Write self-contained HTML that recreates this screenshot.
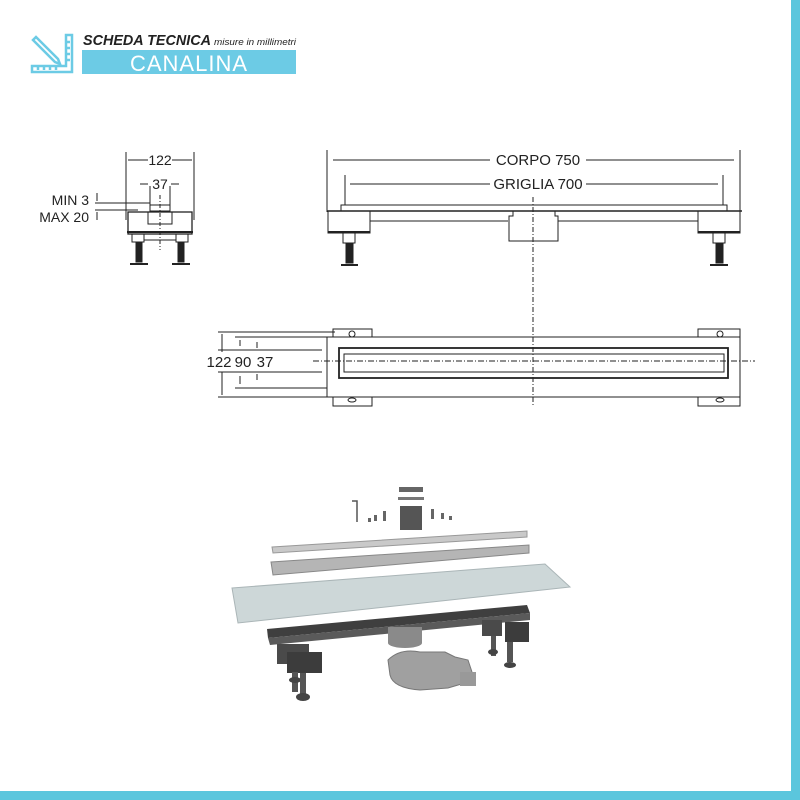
<!DOCTYPE html>
<html><head><meta charset="utf-8"><style>
html,body{margin:0;padding:0;background:#fff;}
svg{display:block;}
text{font-family:"Liberation Sans",sans-serif;}
</style></head><body>
<svg width="800" height="800" viewBox="0 0 800 800" xmlns="http://www.w3.org/2000/svg">
<rect width="800" height="800" fill="#fff"/>
<rect x="791" y="0" width="9" height="800" fill="#5bc6dd"/>
<rect x="0" y="791" width="800" height="9" fill="#5bc6dd"/>

<!-- header icon -->
<g stroke="#6ccbe5" stroke-width="2.5" fill="none">
<path d="M32 72 H72 V35 H66 V66 H32 Z"/>
<path d="M33 40 L55 62 L60 64 L58 59 L36 37 Z"/>
<path d="M66 42 H70 M66 48 H70 M66 54 H70 M66 60 H70"/>
<path d="M38 66 V70 M44 66 V70 M50 66 V70 M56 66 V70"/>
</g>
<text x="83" y="45" font-size="15" font-weight="bold" font-style="italic" fill="#222" textLength="128" lengthAdjust="spacingAndGlyphs">SCHEDA TECNICA</text>
<text x="214" y="45" font-size="9" font-style="italic" fill="#222" textLength="82" lengthAdjust="spacingAndGlyphs">misure in millimetri</text>
<rect x="82" y="50" width="214" height="24" fill="#6ccbe5"/>
<text x="189" y="71" font-size="22" fill="#fff" text-anchor="middle" letter-spacing="1">CANALINA</text>

<g stroke="#222" fill="none" stroke-width="1">
<!-- side view -->
<line x1="126" y1="152" x2="126" y2="220"/><line x1="194" y1="152" x2="194" y2="220"/>
<line x1="128" y1="160" x2="148" y2="160"/><line x1="172" y1="160" x2="192" y2="160"/>
<line x1="140" y1="184" x2="148" y2="184"/><line x1="171" y1="184" x2="179" y2="184"/>
<line x1="150" y1="186" x2="150" y2="205"/><line x1="170" y1="186" x2="170" y2="205"/>
<line x1="160" y1="195" x2="160" y2="250" stroke-dasharray="4,2,1,2"/>
<line x1="95" y1="203" x2="150" y2="203"/><line x1="95" y1="210" x2="138" y2="210"/>
<line x1="97" y1="193" x2="97" y2="201"/><line x1="97" y1="212" x2="97" y2="220"/>
<rect x="150" y="205" width="20" height="6"/>
<rect x="128" y="212" width="64" height="22" stroke-width="1.3"/>
<rect x="148" y="212" width="24" height="12"/>
<line x1="127" y1="232" x2="193" y2="232" stroke-width="2"/>
<rect x="132" y="234" width="12" height="8"/><rect x="176" y="234" width="12" height="8"/>
<line x1="144" y1="240" x2="176" y2="240"/>
<rect x="136" y="242" width="6" height="20" fill="#222"/><rect x="178" y="242" width="6" height="20" fill="#222"/>
<line x1="130" y1="264" x2="148" y2="264" stroke-width="2"/><line x1="172" y1="264" x2="190" y2="264" stroke-width="2"/>

<!-- front view -->
<line x1="327" y1="150" x2="327" y2="212"/><line x1="740" y1="150" x2="740" y2="212"/>
<line x1="333" y1="160" x2="490" y2="160"/><line x1="586" y1="160" x2="734" y2="160"/>
<line x1="345" y1="175" x2="345" y2="205"/><line x1="723" y1="175" x2="723" y2="205"/>
<line x1="350" y1="184" x2="490" y2="184"/><line x1="586" y1="184" x2="718" y2="184"/>
<rect x="341" y="205" width="386" height="6"/>
<line x1="327" y1="211" x2="742" y2="211" stroke-width="1.5"/>
<rect x="328" y="211" width="42" height="22"/><rect x="698" y="211" width="42" height="22"/>
<line x1="370" y1="221" x2="508" y2="221"/><line x1="558" y1="221" x2="698" y2="221"/>
<path d="M513 211 V216 H509 V241 H558 V216 H555 V211"/>
<line x1="533" y1="197" x2="533" y2="405" stroke-dasharray="5,2,1,2"/>
<line x1="328" y1="232" x2="370" y2="232" stroke-width="2"/><line x1="698" y1="232" x2="740" y2="232" stroke-width="2"/>
<rect x="343" y="233" width="12" height="10"/><rect x="713" y="233" width="12" height="10"/>
<rect x="346" y="243" width="7" height="20" fill="#222"/><rect x="716" y="243" width="7" height="20" fill="#222"/>
<line x1="341" y1="265" x2="358" y2="265" stroke-width="2"/><line x1="710" y1="265" x2="728" y2="265" stroke-width="2"/>

<!-- top view -->
<rect x="327" y="337" width="413" height="60"/>
<path d="M333 337 V329 H372 V337"/><path d="M698 337 V329 H740 V337"/>
<path d="M333 397 V406 H372 V397"/><path d="M698 397 V406 H740 V397"/>
<circle cx="352" cy="334" r="3"/><circle cx="720" cy="334" r="3"/>
<ellipse cx="352" cy="400" rx="4" ry="2"/><ellipse cx="720" cy="400" rx="4" ry="2"/>
<rect x="339" y="348" width="389" height="30" stroke-width="1.8"/>
<rect x="344" y="354" width="380" height="18"/>
<line x1="313" y1="361" x2="755" y2="361" stroke-dasharray="6,2,1,2"/>
<line x1="218" y1="332" x2="335" y2="332"/><line x1="235" y1="337" x2="327" y2="337"/>
<line x1="235" y1="388" x2="327" y2="388"/><line x1="218" y1="397" x2="327" y2="397"/>
<line x1="218" y1="350" x2="322" y2="350"/><line x1="218" y1="372" x2="322" y2="372"/>
<line x1="222" y1="334" x2="222" y2="352"/><line x1="222" y1="372" x2="222" y2="395"/>
<line x1="240" y1="340" x2="240" y2="346"/><line x1="240" y1="376" x2="240" y2="384"/>
<line x1="257" y1="342" x2="257" y2="348"/><line x1="257" y1="374" x2="257" y2="380"/>
</g>
<g font-size="14" fill="#222">
<text x="160" y="165" text-anchor="middle" font-size="14">122</text>
<text x="160" y="189" text-anchor="middle" font-size="14">37</text>
<text x="89" y="205" text-anchor="end" font-size="14">MIN 3</text>
<text x="89" y="222" text-anchor="end" font-size="14">MAX 20</text>
<text x="538" y="165" text-anchor="middle" font-size="15">CORPO 750</text>
<text x="538" y="189" text-anchor="middle" font-size="15">GRIGLIA 700</text>
<text x="219" y="367" font-size="15" text-anchor="middle">122</text>
<text x="243" y="367" font-size="15" text-anchor="middle">90</text>
<text x="265" y="367" font-size="15" text-anchor="middle">37</text>
</g>

<!-- 3D render -->
<path d="M232 588 L545 564 L570 587 L238 623 Z" fill="#cdd7d8" stroke="#aab5b7"/>
<path d="M272 547 L527 531 L527 537 L273 553 Z" fill="#c9c9c9" stroke="#999"/>
<path d="M271 562 L529 545 L529 553 L273 575 Z" fill="#b5b5b5" stroke="#888"/>
<path d="M267 629 L527 605 L530 613 L268 638 Z" fill="#3f3f3f"/>
<path d="M268 638 L530 613 L530 620 L270 645 Z" fill="#5a5a5a"/>
<rect x="388" y="627" width="34" height="16" fill="#8a8a8a"/>
<ellipse cx="405" cy="643" rx="17" ry="5" fill="#8a8a8a"/>
<path d="M388 660 Q400 648 420 652 L445 652 L455 657 L468 660 L472 672 L475 680 L448 688 L420 690 Q393 688 390 675 Z" fill="#a0a0a0" stroke="#777"/>
<rect x="460" y="672" width="16" height="14" fill="#999"/>
<rect x="277" y="644" width="32" height="20" fill="#4a4a4a"/>
<rect x="287" y="652" width="35" height="21" fill="#3c3c3c"/>
<rect x="482" y="620" width="20" height="16" fill="#4a4a4a"/>
<rect x="505" y="622" width="24" height="20" fill="#3c3c3c"/>
<rect x="292" y="672" width="6" height="20" fill="#555"/><ellipse cx="295" cy="680" rx="6" ry="3" fill="#444"/>
<rect x="300" y="673" width="6" height="22" fill="#555"/><ellipse cx="303" cy="697" rx="7" ry="4" fill="#444"/>
<rect x="491" y="636" width="5" height="20" fill="#555"/><ellipse cx="493" cy="652" rx="5" ry="3" fill="#444"/>
<rect x="507" y="642" width="6" height="20" fill="#555"/><ellipse cx="510" cy="665" rx="6" ry="3" fill="#444"/>
<rect x="400" y="506" width="22" height="24" fill="#555"/>
<rect x="398" y="497" width="26" height="3" fill="#777"/>
<rect x="399" y="487" width="24" height="5" fill="#666"/>
<path d="M352 501 H357 V522" stroke="#555" stroke-width="1.5" fill="none"/>
<g fill="#666"><rect x="368" y="518" width="3" height="4"/><rect x="374" y="515" width="3" height="6"/><rect x="383" y="511" width="3" height="10"/><rect x="431" y="509" width="3" height="10"/><rect x="441" y="513" width="3" height="6"/><rect x="449" y="516" width="3" height="4"/></g>
</svg>
</body></html>
